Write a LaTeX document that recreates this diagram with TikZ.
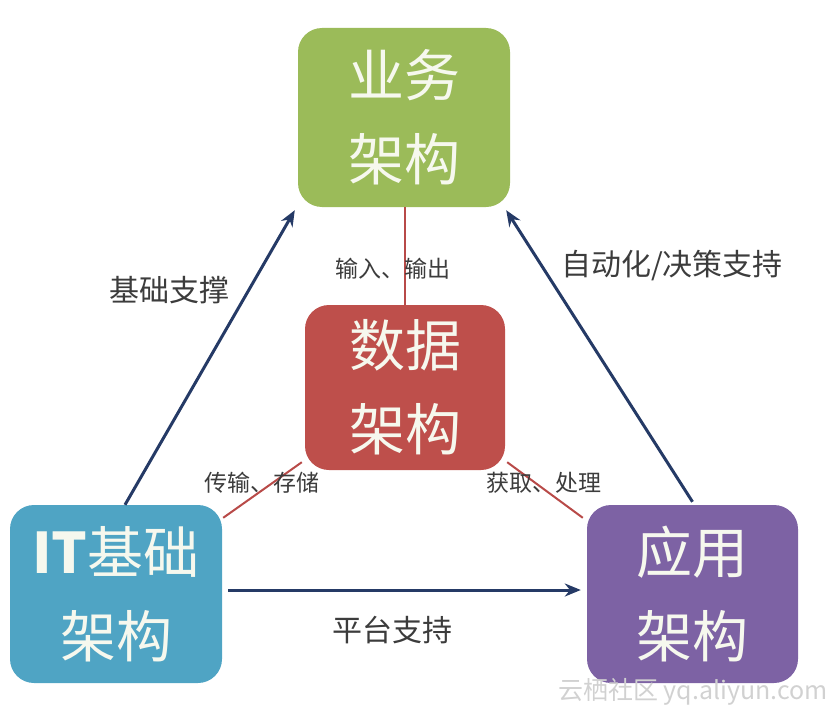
\documentclass[tikz,border=0pt]{standalone}
\usepackage{fontspec}
\setmainfont{Noto Sans CJK SC}
\usetikzlibrary{arrows.meta,calc}
\definecolor{bizgreen}{HTML}{9BBB59}
\definecolor{datared}{HTML}{BE4F4B}
\definecolor{itblue}{HTML}{4FA4C4}
\definecolor{apppurple}{HTML}{7D62A4}
\definecolor{navy}{HTML}{253A66}
\definecolor{linered}{HTML}{B84A48}
\definecolor{labelgray}{HTML}{3C3C3C}
\definecolor{boxtext}{HTML}{F6F8EE}
\begin{document}
\begin{tikzpicture}[x=1pt,y=-1pt,
  archbox/.style={draw=none,rounded corners=24pt,minimum width=#1,align=center,
    text=boxtext,font=\fontsize{56}{84}\selectfont,inner sep=0pt},
  lbl/.style={text=labelgray,font=\fontsize{30}{36}\selectfont,inner sep=0pt},
  slbl/.style={text=labelgray,font=\fontsize{23}{28}\selectfont,inner sep=0pt},
  arr/.style={draw=navy,line width=3pt,-{Stealth[length=16pt,width=13pt]}},
  redline/.style={draw=linered,line width=2pt}]
\useasboundingbox (0,0) rectangle (835,717);
% boxes
\node[archbox=212pt,fill=bizgreen,minimum height=179pt] (biz) at (404,117.5) {业务\\架构};
\node[archbox=200pt,fill=datared,minimum height=165pt] (data) at (405,387.5) {数据\\架构};
\node[archbox=212pt,fill=itblue,minimum height=178pt] (it) at (116,594) {\textbf{IT}基础\\架构};
\node[archbox=211pt,fill=apppurple,minimum height=178pt] (app) at (692.5,594) {应用\\架构};
% arrows
\draw[arr] ([xshift=9pt]it.north) -- ([xshift=-3pt,yshift=-3pt]biz.south west);
\draw[arr] ([yshift=3pt]app.north) -- ([xshift=-4pt,yshift=-3pt]biz.south east);
\draw[arr] ([xshift=6pt,yshift=4pt]it.east) -- ([xshift=-6pt,yshift=4pt]app.west);
% red lines
\draw[redline] (data.north) -- (data.north |- biz.south);
\draw[redline] ([xshift=-3pt,yshift=8pt]data.south west) -- ([xshift=1pt,yshift=-13pt]it.north east);
\draw[redline] ([xshift=2pt,yshift=8pt]data.south east) -- ([xshift=-4pt,yshift=-13pt]app.north west);
% labels
\node[lbl] (l1) at (169,290) {基础支撑};
\node[lbl] (l2) at (672,266) {自动化/决策支持};
\node[lbl] (l3) at (392,630) {平台支持};
\node[slbl] (l4) at (393,269) {输入、输出};
\node[slbl] (l5) at (262,483) {传输、存储};
\node[slbl] (l6) at (544,483) {获取、处理};
% watermark
\node[text=black!18,font=\fontsize{25}{30}\selectfont,anchor=east,inner sep=0pt] (wm) at (828,692) {云栖社区 yq.aliyun.com};
\end{tikzpicture}
\end{document}
